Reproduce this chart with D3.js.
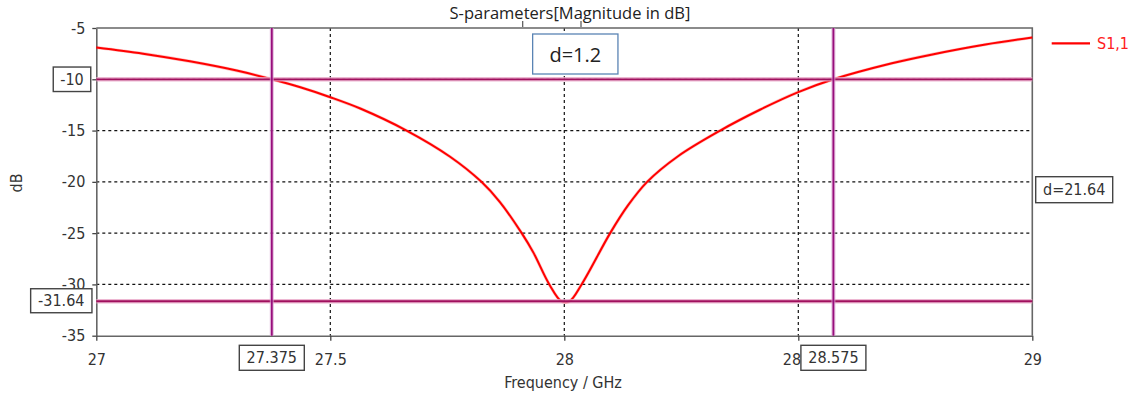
<!DOCTYPE html>
<html>
<head>
<meta charset="utf-8">
<script src="https://cdn.jsdelivr.net/npm/d3@7"></script>
<style>
  html, body { margin: 0; padding: 0; background: #fff; }
  svg { display: block; }
</style>
</head>
<body>
<svg id="chart" width="1135" height="401"></svg>
<script>
// S1,1 magnitude (dB) versus frequency (GHz)
const freqGHz = [27.0, 27.1, 27.2, 27.3, 27.375, 27.436, 27.5, 27.564, 27.663, 27.756, 27.823, 27.862,
                 27.909, 27.934, 27.968, 27.994, 28.011, 28.037, 28.098, 28.136, 28.177,
                 28.243, 28.333, 28.418, 28.5, 28.575, 28.7, 28.784, 28.9, 29.0];
const s11dB = [-6.9, -7.5, -8.25, -9.15, -10.0, -10.78, -11.75, -12.85, -15.0, -17.55, -20.0, -21.95,
               -25.0, -26.9, -30.0, -31.64, -31.64, -30.0, -25.0, -22.3, -20.0,
               -17.5, -15.0, -12.97, -11.25, -10.0, -8.44, -7.6, -6.61, -5.93];

const xTicks = [27, 27.5, 28, 28.5, 29];
const yTicks = [-5, -10, -15, -20, -25, -30, -35];
const xGrid = [27.5, 28, 28.5];
const yGrid = [-10, -15, -20, -25, -30];

// markers: two frequency cursors and two level cursors
const markerFreqs = [27.375, 28.575];
const markerLevels = [-10, -31.64];
const freqLabels = ["27.375", "28.575"];
const levelLabels = ["-10", "-31.64"];
const bandwidthLabel = "d=1.2";
const depthLabel = "d=21.64";

const svg = d3.select("#chart");
const plotLeft = 96.3, plotRight = 1032.3, plotTop = 28, plotBottom = 335.7;
const x = d3.scaleLinear().domain([27, 29]).range([plotLeft, plotRight]);
const y = d3.scaleLinear().domain([-35, -5]).range([plotBottom, plotTop]);

const fontLbl = "\"DejaVu Sans Condensed\", \"DejaVu Sans\", sans-serif";
const fontTitle = "\"Open Sans\", \"Noto Sans\", sans-serif";
const plainNum = d => String(d);

// title
svg.append("text").attr("x", 570).attr("y", 19).attr("text-anchor", "middle")
  .attr("font-family", fontTitle).attr("font-size", 16.5).attr("fill", "#222")
  .text("S-parameters[Magnitude in dB]");
// small bracket marks under the title
[522.7, 581].forEach(px => {
  svg.append("line").attr("x1", px).attr("x2", px).attr("y1", 21).attr("y2", 27)
    .attr("stroke", "#555").attr("stroke-width", 1.2);
});

// dashed grid
const grid = svg.append("g").attr("stroke", "#111").attr("stroke-width", 1.2).attr("stroke-dasharray", "3,3");
grid.selectAll("line.v").data(xGrid).join("line").attr("class", "v")
  .attr("x1", d => x(d)).attr("x2", d => x(d)).attr("y1", plotTop).attr("y2", plotBottom);
grid.selectAll("line.h").data(yGrid).join("line").attr("class", "h")
  .attr("x1", plotLeft).attr("x2", plotRight).attr("y1", d => y(d)).attr("y2", d => y(d));

// axes; the -10 level is labelled by its cursor box instead of a tick label
const xAxis = svg.append("g").attr("transform", `translate(0,${plotBottom})`)
  .call(d3.axisBottom(x).tickValues(xTicks).tickFormat(plainNum).tickSizeInner(5).tickSizeOuter(0).tickPadding(13));
const yAxis = svg.append("g").attr("transform", `translate(${plotLeft},0)`)
  .call(d3.axisLeft(y).tickValues(yTicks).tickFormat(d => markerLevels.includes(d) ? "" : plainNum(d))
    .tickSizeInner(4).tickSizeOuter(0).tickPadding(7));
[xAxis, yAxis].forEach(g => {
  g.select(".domain").attr("stroke", "#666").attr("stroke-width", 1.6);
  g.selectAll(".tick line").attr("stroke", "#444").attr("stroke-width", 1.3);
  g.selectAll(".tick text").attr("font-family", fontLbl).attr("font-size", 16).attr("fill", "#333");
});
// top and right frame
svg.append("path")
  .attr("d", `M${plotLeft},${plotTop}H${plotRight}V${plotBottom}`)
  .attr("fill", "none").attr("stroke", "#666").attr("stroke-width", 1.6);

// axis titles
svg.append("text").attr("x", 563).attr("y", 388).attr("text-anchor", "middle")
  .attr("font-family", fontLbl).attr("font-size", 16).attr("fill", "#333").text("Frequency / GHz");
svg.append("text").attr("transform", `translate(22,${183}) rotate(-90)`).attr("text-anchor", "middle")
  .attr("font-family", fontLbl).attr("font-size", 16).attr("fill", "#333").text("dB");

// S1,1 curve
const line = d3.line().x((d, i) => x(freqGHz[i])).y(d => y(d)).curve(d3.curveCatmullRom.alpha(0.5));
svg.append("path").datum(s11dB)
  .attr("d", line).attr("fill", "none").attr("stroke", "#ff1010").attr("stroke-width", 3.2).attr("opacity", 0.25);
svg.append("path").datum(s11dB)
  .attr("d", line).attr("fill", "none").attr("stroke", "#ff0000").attr("stroke-width", 2);

// cursor lines
const cur = svg.append("g");
markerLevels.forEach(v => {
  cur.append("line").attr("x1", plotLeft).attr("x2", plotRight).attr("y1", y(v)).attr("y2", y(v))
    .attr("stroke", "#e9a6c8").attr("stroke-width", 4.5).attr("opacity", 0.8);
  cur.append("line").attr("x1", plotLeft).attr("x2", plotRight).attr("y1", y(v)).attr("y2", y(v))
    .attr("stroke", "#a0105e").attr("stroke-width", 1.8);
});
markerFreqs.forEach(f => {
  cur.append("line").attr("x1", x(f)).attr("x2", x(f)).attr("y1", plotTop).attr("y2", plotBottom)
    .attr("stroke", "#d9a0d0").attr("stroke-width", 4).attr("opacity", 0.7);
  cur.append("line").attr("x1", x(f)).attr("x2", x(f)).attr("y1", plotTop).attr("y2", plotBottom)
    .attr("stroke", "#980e7c").attr("stroke-width", 1.8);
});

// boxed labels
function boxLabel(cx, cy, text, opts = {}) {
  const g = svg.append("g");
  const w = opts.w, h = opts.h;
  g.append("rect").attr("x", cx - w / 2).attr("y", cy - h / 2).attr("width", w).attr("height", h)
    .attr("fill", "#fff").attr("stroke", opts.stroke || "#444").attr("stroke-width", opts.sw || 1.4);
  g.append("text").attr("x", cx).attr("y", cy).attr("text-anchor", "middle")
    .attr("dominant-baseline", "central")
    .attr("font-family", opts.font || fontLbl).attr("font-size", opts.size || 16)
    .attr("fill", opts.color || "#333").text(text);
  return g;
}
// frequency cursor values on the x axis
markerFreqs.forEach((f, i) => boxLabel(x(f), 357.8, freqLabels[i], { w: 65, h: 25 }));
// level cursor values on the y axis
boxLabel(72, y(markerLevels[0]), levelLabels[0], { w: 37.5, h: 24.5 });
boxLabel(61.3, y(markerLevels[1]) - 0.5, levelLabels[1], { w: 61.3, h: 24 });
// level difference
boxLabel(1074.2, 189.7, depthLabel, { w: 77, h: 26 });
// frequency difference
boxLabel(575.3, 54, bandwidthLabel, { w: 85.3, h: 40, font: fontTitle, size: 20, stroke: "#5a84b4", sw: 1.3, color: "#222" });

// legend
svg.append("line").attr("x1", 1051.7).attr("x2", 1090).attr("y1", 43.3).attr("y2", 43.3)
  .attr("stroke", "#ff0000").attr("stroke-width", 2.2);
svg.append("text").attr("x", 1097).attr("y", 43.3).attr("dominant-baseline", "central")
  .attr("font-family", fontLbl).attr("font-size", 16).attr("fill", "#ff2020").text("S1,1");
</script>
</body>
</html>
